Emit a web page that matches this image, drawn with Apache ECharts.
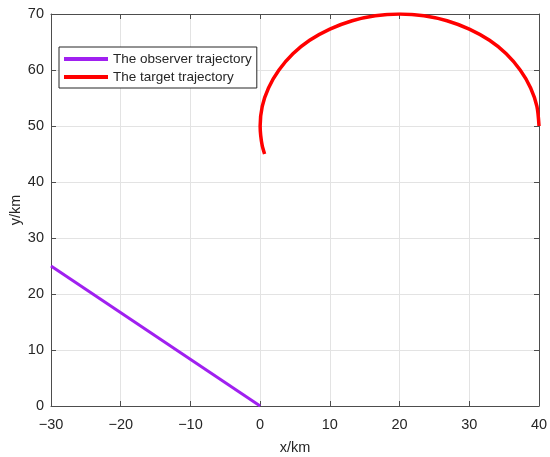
<!DOCTYPE html>
<html><head><meta charset="utf-8">
<script src="https://cdn.jsdelivr.net/npm/echarts@6/dist/echarts.min.js"></script>
<style>html,body{margin:0;padding:0;background:#fff}#c{width:550px;height:457px}</style>
</head><body><div id="c"></div>
<script>
var seriesNames = ['The observer trajectory', 'The target trajectory'];
var observerPts = [[-30, 25], [0, 0]];
var targetPts = [[0.64, 45], [0.3, 46.5], [0.08, 48.3], [0, 50], [0.3, 53.5], [1.2, 56.8], [2.7, 60], [4.7, 62.9], [7.1, 65.3], [10, 67.3], [13.2, 68.8], [16.5, 69.7], [20, 70], [23.5, 69.7], [26.8, 68.8], [30, 67.3], [32.9, 65.3], [35.3, 62.9], [37.3, 60], [38.8, 56.8], [39.7, 53.5], [40, 50]];
var xTicks = [-30, -20, -10, 0, 10, 20, 30, 40];
var yTicks = [0, 10, 20, 30, 40, 50, 60, 70];
var xName = 'x/km', yName = 'y/km';

var font = 'Liberation Sans, Arial, sans-serif';
var axisColor = '#4d4d4d';
function fmt(v){ return String(v).replace('-', '\u2212'); }
var chart = echarts.init(document.getElementById('c'), null, {renderer:'canvas'});
var baseAxis = {
  type: 'value',
  axisLine: {show: true, onZero: false, lineStyle: {color: axisColor, width: 1}},
  axisTick: {show: true, inside: true, length: 5, lineStyle: {color: axisColor}},
  splitLine: {show: false},
  axisLabel: {show: false}
};
chart.setOption({
  animation: false,
  backgroundColor: '#fff',
  grid: {left: 51, right: 11, top: 14, bottom: 51, containLabel: false, outerBoundsMode: 'none'},
  legend: {
    left: 59, top: 47, orient: 'vertical',
    padding: [5, 5, 4, 5], itemGap: 4,
    itemWidth: 44, itemHeight: 4,
    borderColor: '#262626', borderWidth: 1, backgroundColor: '#fff',
    textStyle: {fontFamily: font, fontSize: 13.5, color: '#262626'},
    data: [
      {name: seriesNames[0], icon: 'rect', itemStyle: {color: '#a020f0'}},
      {name: seriesNames[1], icon: 'rect', itemStyle: {color: '#ff0000'}}
    ]
  },
  xAxis: [
    Object.assign({}, baseAxis, {
      position: 'bottom', min: xTicks[0], max: xTicks[xTicks.length-1], interval: 10,
      name: xName, nameLocation: 'middle', nameGap: 34, nameMoveOverlap: false,
      nameTextStyle: {fontFamily: font, fontSize: 14.5, color: '#262626'},
      axisLabel: {show: true, margin: 11, fontFamily: font, fontSize: 14.5, color: '#262626', formatter: fmt},
      splitLine: {show: true, lineStyle: {color: '#e3e3e3', width: 1}}
    }),
    Object.assign({}, baseAxis, {position: 'top', min: xTicks[0], max: xTicks[xTicks.length-1], interval: 10})
  ],
  yAxis: [
    Object.assign({}, baseAxis, {
      position: 'left', min: yTicks[0], max: yTicks[yTicks.length-1], interval: 10,
      name: yName, nameLocation: 'middle', nameGap: 28, nameRotate: 90, nameMoveOverlap: false,
      nameTextStyle: {fontFamily: font, fontSize: 14.5, color: '#262626'},
      axisLabel: {show: true, margin: 7, fontFamily: font, fontSize: 14.5, color: '#262626'},
      splitLine: {show: true, lineStyle: {color: '#e3e3e3', width: 1}}
    }),
    Object.assign({}, baseAxis, {position: 'right', min: yTicks[0], max: yTicks[yTicks.length-1], interval: 10})
  ],
  series: [
    {name: seriesNames[0], type: 'line', data: observerPts, showSymbol: false, symbol: 'none',
     lineStyle: {color: '#a020f0', width: 3}, itemStyle: {color: '#a020f0'}, z: 3},
    {name: seriesNames[1], type: 'line', data: targetPts, showSymbol: false, symbol: 'none', smooth: 0.3,
     lineStyle: {color: '#ff0000', width: 3.5}, itemStyle: {color: '#ff0000'}, z: 3}
  ]
});
</script></body></html>
